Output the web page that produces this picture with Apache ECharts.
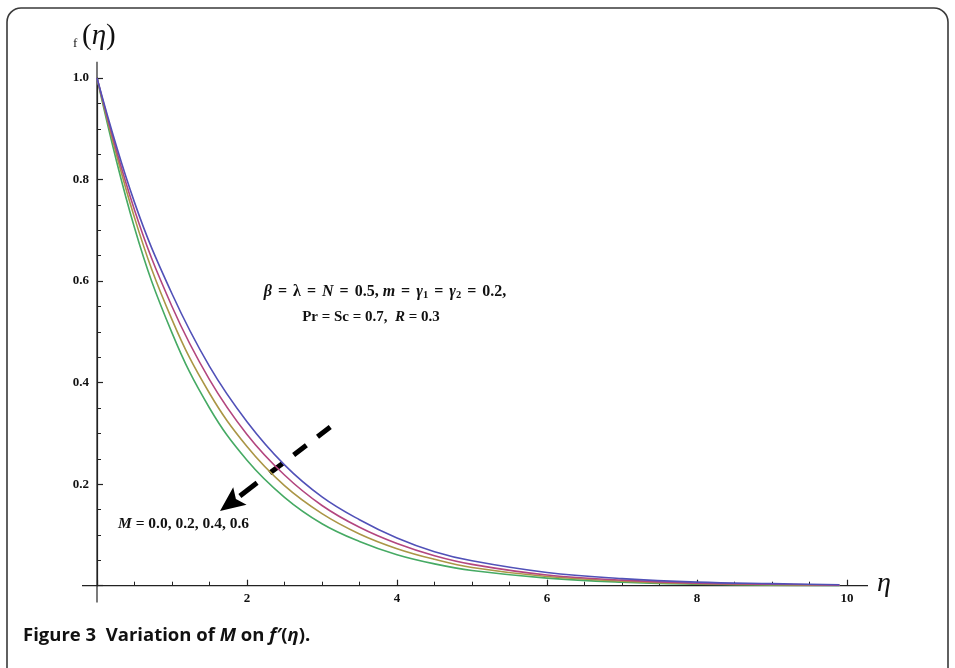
<!DOCTYPE html>
<html>
<head>
<meta charset="utf-8">
<script src="https://cdn.jsdelivr.net/npm/echarts@6/dist/echarts.min.js"></script>
<style>html,body{margin:0;padding:0;background:#fff;}#c{width:955px;height:668px;}</style>
</head>
<body>
<div id="c"></div>
<script>
// eta values (x)
const eta = [0, 0.5, 1, 1.5, 2, 2.5, 3, 3.5, 4, 4.5, 5, 6, 7, 8, 9, 9.9];
// f'(eta) for M = 0.0, 0.2, 0.4, 0.6
const fM00 = [1.0, 0.755, 0.575, 0.432, 0.323, 0.238, 0.175, 0.130, 0.094, 0.067, 0.049, 0.026, 0.014, 0.007, 0.004, 0.002];
const fM02 = [1.0, 0.740, 0.550, 0.406, 0.298, 0.218, 0.158, 0.115, 0.083, 0.059, 0.042, 0.021, 0.011, 0.005, 0.003, 0.001];
const fM04 = [1.0, 0.725, 0.524, 0.379, 0.274, 0.197, 0.142, 0.102, 0.073, 0.052, 0.036, 0.018, 0.009, 0.004, 0.002, 0.001];
const fM06 = [1.0, 0.705, 0.498, 0.350, 0.247, 0.174, 0.122, 0.087, 0.061, 0.043, 0.030, 0.015, 0.007, 0.003, 0.001, 0.000];
const seriesNames = ['M = 0.0', 'M = 0.2', 'M = 0.4', 'M = 0.6'];
const seriesColors = ['#5151b8', '#b3467f', '#ab9646', '#46aa64'];
const xTicks = [2, 4, 6, 8, 10];
const yTicks = [0.2, 0.4, 0.6, 0.8, 1.0];

const allData = [fM00, fM02, fM04, fM06];
const chart = echarts.init(document.getElementById('c'), null, {renderer: 'canvas'});
const serif = '"Liberation Serif", "DejaVu Serif", serif';

const option = {
  animation: false,
  backgroundColor: '#fff',
  grid: {left: 97, top: 78, width: 750, height: 507.7, containLabel: false},
  xAxis: {
    type: 'value', min: 0, max: 10, interval: 2,
    axisLine: {show: true, lineStyle: {color: '#222', width: 1.2}},
    axisTick: {show: true, inside: true, length: 6, lineStyle: {color: '#222', width: 1.2}},
    minorTick: {show: true, splitNumber: 4, length: 4, lineStyle: {color: '#222', width: 1}},
    splitLine: {show: false},
    axisLabel: {
      margin: 6, color: '#111', fontFamily: serif, fontWeight: 'bold', fontSize: 13,
      formatter: v => (xTicks.indexOf(v) >= 0 ? String(v) : '')
    }
  },
  yAxis: {
    type: 'value', min: 0, max: 1, interval: 0.2,
    axisLine: {show: true, lineStyle: {color: '#222', width: 1.2}},
    axisTick: {show: true, inside: true, length: 6, lineStyle: {color: '#222', width: 1.2}},
    minorTick: {show: true, splitNumber: 4, length: 4, lineStyle: {color: '#222', width: 1}},
    splitLine: {show: false},
    axisLabel: {
      margin: 8, color: '#111', fontFamily: serif, fontWeight: 'bold', fontSize: 13,
      formatter: v => {
        const f = yTicks.find(t => Math.abs(t - v) < 1e-9);
        return f !== undefined ? f.toFixed(1) : '';
      }
    }
  },
  series: allData.map((d, i) => ({
    name: seriesNames[i],
    type: 'line',
    smooth: 0.4,
    showSymbol: false,
    symbol: 'none',
    data: eta.map((x, j) => [x, d[j]]),
    lineStyle: {color: seriesColors[i], width: 1.6},
    z: 5 - i
  }))
};
chart.setOption(option);

// annotations placed in data coordinates
function px(x, y) { return chart.convertToPixel({gridIndex: 0}, [x, y]); }
const o = px(0, 0);
const xEnd = px(10.28, 0);
const xStart = px(-0.2, 0);
const yTop = px(0, 1.032);
const yBot = px(0, -0.033);

// arrow
const a0 = px(3.11, 0.3125);
const aTip = px(1.64, 0.147);
const dx = aTip[0] - a0[0], dy = aTip[1] - a0[1];
const L = Math.sqrt(dx * dx + dy * dy);
const ux = dx / L, uy = dy / L;
const nx = -uy, ny = ux;
const headLen = 25, headW = 11;
const hb = [aTip[0] - ux * headLen, aTip[1] - uy * headLen];
const dashEnd = [a0[0] + ux * 82, a0[1] + uy * 82];
const shaftStart = [a0[0] + ux * 92, a0[1] + uy * 92];

const graphics = [
  // figure frame
  {type: 'rect', shape: {x: 7, y: 8, width: 941, height: 675, r: 14},
   style: {fill: 'none', stroke: '#3a3a3a', lineWidth: 1.6}, silent: true},
  // axis extensions
  {type: 'line', shape: {x1: xStart[0], y1: o[1], x2: xEnd[0], y2: o[1]},
   style: {stroke: '#222', lineWidth: 1.2}},
  {type: 'line', shape: {x1: o[0], y1: yTop[1], x2: o[0], y2: yBot[1]},
   style: {stroke: '#222', lineWidth: 1.2}},
  // axis titles
  {type: 'text', left: 73, top: 37,
   style: {text: 'f', font: '13px ' + serif, fill: '#111'}},
  {type: 'text', left: 82, top: 22,
   style: {
     text: '{n|(}{i|η}{n|)}',
     rich: {
       n: {fontFamily: serif, fontSize: 29, fill: '#111'},
       i: {fontFamily: serif, fontStyle: 'italic', fontSize: 29, fill: '#111'}
     }
   }},
  {type: 'text', x: 884, y: 584,
   style: {text: 'η', font: 'italic 28px ' + serif, fill: '#111', align: 'center', verticalAlign: 'middle'}},
  // parameter annotation
  {type: 'text', x: 385, y: 292,
   style: {
     text: '{i|β}{e|=}{n|λ}{e|=}{i|N}{e|=}{n|0.5, }{i|m}{e|=}{i|γ}{s|1}{e|=}{i|γ}{s|2}{e|=}{n|0.2,}',
     align: 'center', verticalAlign: 'middle',
     rich: {
       i: {fontFamily: serif, fontStyle: 'italic', fontWeight: 'bold', fontSize: 16, fill: '#111', lineHeight: 18},
       n: {fontFamily: serif, fontWeight: 'bold', fontSize: 16, fill: '#111', lineHeight: 18},
       e: {fontFamily: serif, fontWeight: 'bold', fontSize: 16, fill: '#111', lineHeight: 18, padding: [0, 6, 0, 6]},
       s: {fontFamily: serif, fontWeight: 'bold', fontSize: 10.5, fill: '#111', lineHeight: 10, verticalAlign: 'bottom'}
     }
   }},
  {type: 'text', x: 371, y: 317,
   style: {
     text: '{n|Pr = Sc = 0.7,  }{i|R}{n| = 0.3}',
     align: 'center', verticalAlign: 'middle',
     rich: {
       i: {fontFamily: serif, fontStyle: 'italic', fontWeight: 'bold', fontSize: 15, fill: '#111'},
       n: {fontFamily: serif, fontWeight: 'bold', fontSize: 15, fill: '#111'}
     }
   }},
  // M annotation
  {type: 'text', left: 118, top: 516,
   style: {
     text: '{i|M}{n| = 0.0, 0.2, 0.4, 0.6}',
     rich: {
       i: {fontFamily: serif, fontStyle: 'italic', fontWeight: 'bold', fontSize: 15.5, fill: '#111'},
       n: {fontFamily: serif, fontWeight: 'bold', fontSize: 15.5, fill: '#111'}
     }
   }},
  // dashed part of arrow
  {type: 'line', shape: {x1: a0[0], y1: a0[1], x2: dashEnd[0], y2: dashEnd[1]},
   style: {stroke: '#000', lineWidth: 5, lineDash: [16, 14]}},
  // solid shaft
  {type: 'line', shape: {x1: shaftStart[0], y1: shaftStart[1], x2: hb[0], y2: hb[1]},
   style: {stroke: '#000', lineWidth: 5}},
  // arrow head
  {type: 'polygon', shape: {points: [
     [aTip[0], aTip[1]],
     [hb[0] + nx * headW, hb[1] + ny * headW],
     [hb[0] + ux * 5, hb[1] + uy * 5],
     [hb[0] - nx * headW, hb[1] - ny * headW]
   ]}, style: {fill: '#000'}},
  // caption
  {type: 'text', left: 23, top: 626,
   style: {
     text: '{b|Figure 3  Variation of }{bi|M}{b| on }{bi|f′}{b|(}{bi|η}{b|).}',
     rich: {
       b: {fontFamily: '"Open Sans", "Noto Sans", sans-serif', fontWeight: 'bold', fontSize: 18.5, fill: '#111'},
       bi: {fontFamily: '"Open Sans", "Noto Sans", sans-serif', fontWeight: 'bold', fontStyle: 'italic', fontSize: 18.5, fill: '#111'}
     }
   }}
];
chart.setOption({graphic: graphics});
</script>
</body>
</html>
